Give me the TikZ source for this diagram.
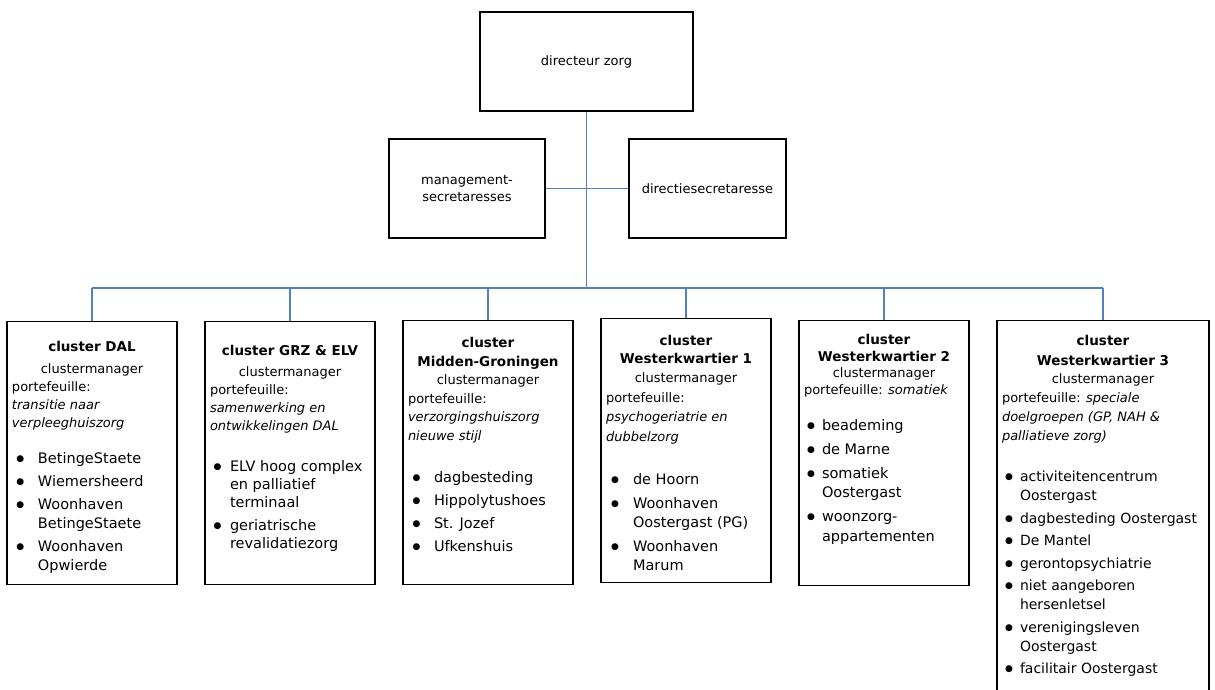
\documentclass[tikz,border=0pt]{standalone}
\usepackage{fontspec}
\setmainfont{DejaVu Sans}
\usepackage{xcolor}
\usetikzlibrary{positioning}

\definecolor{linkblue}{RGB}{79,129,189}

% bullet line: #1 dot offset, #2 text indent, #3 text
\newcommand{\bul}[3]{\par\noindent\hangindent=#2\hangafter=1%
  \makebox[#2][l]{\hspace{#1}\raisebox{1.8pt}{\fontsize{9}{9}\selectfont ●}}#3}

\tikzset{
  topbox/.style={draw, line width=1.1pt, minimum height=99pt, align=center,
    font=\fontsize{13}{17}\selectfont},
  clusterbox/.style={draw, line width=1.1pt, anchor=north, inner xsep=5pt, inner ysep=0pt},
  link/.style={draw=linkblue, line width=1.2pt}
}

\begin{document}
\begin{tikzpicture}[x=1pt, y=-1pt]
    \useasboundingbox (0,0) rectangle (1215,689);
    \clip (0,0) rectangle (1215,689);

    % Top
    \node[topbox, minimum width=213pt] (dir) at (586.5,61.5) {directeur zorg};
    \node[topbox, minimum width=156pt] (mgmt) at (467,188.5) {management-\\secretaresses};
    \node[topbox, minimum width=157pt] (dsec) at (707.5,188.5) {directiesecretaresse};

    % Clusters
    \node[clusterbox] (dal) at (92,321) {\parbox[c][263pt][t]{160pt}{%
        \fontsize{13}{18}\selectfont
        {\centering\rule{0pt}{30pt}\fontsize{13.5}{18}\bfseries cluster DAL\par}
        {\centering\rule{0pt}{21pt}clustermanager\par}
        \raggedright portefeuille:\\
        \textit{transitie naar\\ verpleeghuiszorg}\par
        \vspace{13pt}
        \fontsize{14.5}{19}\selectfont\parskip=4pt
        \bul{4.5pt}{26pt}{BetingeStaete}
        \bul{4.5pt}{26pt}{Wiemersheerd}
        \bul{4.5pt}{26pt}{Woonhaven\newline BetingeStaete}
        \bul{4.5pt}{26pt}{Woonhaven\newline Opwierde}\par}};
    \node[clusterbox] (grz) at (290,321) {\parbox[c][263pt][t]{160pt}{%
        \fontsize{13}{18}\selectfont
        {\centering\rule{0pt}{34pt}\fontsize{13.5}{18}\bfseries cluster GRZ \& ELV\par}
        {\centering\rule{0pt}{20pt}clustermanager\par}
        \raggedright portefeuille:\\
        \textit{samenwerking en\\ ontwikkelingen DAL}\par
        \vspace{18pt}
        \fontsize{14.5}{18}\selectfont\parskip=5pt
        \bul{3.5pt}{20pt}{ELV hoog complex\newline en palliatief\newline terminaal}
        \bul{3.5pt}{20pt}{geriatrische\newline revalidatiezorg}\par}};
    \node[clusterbox] (mg) at (488,320) {\parbox[c][264pt][t]{160pt}{%
        \fontsize{13}{18.6}\selectfont
        {\centering\rule{0pt}{27pt}\fontsize{13.5}{18.6}\bfseries cluster\\ Midden-Groningen\par}
        \raggedright
        {\centering clustermanager\par}
        portefeuille:\\
        \textit{verzorgingshuiszorg\\ nieuwe stijl}\par
        \vspace{19pt}
        \fontsize{14.5}{19}\selectfont\parskip=4pt
        \bul{4.5pt}{26pt}{dagbesteding}
        \bul{4.5pt}{26pt}{Hippolytushoes}
        \bul{4.5pt}{26pt}{St. Jozef}
        \bul{4.5pt}{26pt}{Ufkenshuis}\par}};
    \node[clusterbox] (wk1) at (686,318) {\parbox[c][264pt][t]{160pt}{%
        \fontsize{13}{19.4}\selectfont
        {\centering\rule{0pt}{27pt}\fontsize{13.5}{18}\bfseries cluster\\ Westerkwartier 1\par}
        \raggedright
        {\centering clustermanager\par}
        portefeuille:\\
        \textit{psychogeriatrie en\\ dubbelzorg}\par
        \vspace{20pt}
        \fontsize{14.5}{19.5}\selectfont\parskip=4pt
        \bul{5pt}{27pt}{de Hoorn}
        \bul{5pt}{27pt}{Woonhaven\newline Oostergast (PG)}
        \bul{5pt}{27pt}{Woonhaven\newline Marum}\par}};
    \node[clusterbox] (wk2) at (884,320) {\parbox[c][265pt][t]{160pt}{%
        \fontsize{13}{16.5}\selectfont
        {\centering\rule{0pt}{24pt}\fontsize{13.5}{16.5}\bfseries cluster\\ Westerkwartier 2\par}
        \raggedright
        {\centering clustermanager\par}
        portefeuille: \textit{somatiek}\par
        \vspace{12pt}
        \fontsize{14.5}{19.5}\selectfont\parskip=4.5pt
        \bul{3pt}{18pt}{beademing}
        \bul{3pt}{18pt}{de Marne}
        \bul{3pt}{18pt}{somatiek\newline Oostergast}
        \bul{3pt}{18pt}{woonzorg-\newline appartementen}\par}};
    \node[clusterbox] (wk3) at (1103,320) {\parbox[c][400pt][t]{202pt}{%
        \fontsize{13}{18.8}\selectfont
        {\centering\rule{0pt}{25pt}\fontsize{13.5}{19.5}\bfseries cluster\\ Westerkwartier 3\par}
        \raggedright
        {\centering clustermanager\par}
        portefeuille: \textit{speciale\\ doelgroepen (GP, NAH \&\\ palliatieve zorg)}\par
        \vspace{19pt}
        \fontsize{14}{19}\selectfont\parskip=3.5pt
        \bul{3pt}{18pt}{activiteitencentrum\newline Oostergast}
        \bul{3pt}{18pt}{dagbesteding Oostergast}
        \bul{3pt}{18pt}{De Mantel}
        \bul{3pt}{18pt}{gerontopsychiatrie}
        \bul{3pt}{18pt}{niet aangeboren\newline hersenletsel}
        \bul{3pt}{18pt}{verenigingsleven\newline Oostergast}
        \bul{3pt}{18pt}{facilitair Oostergast}\par}};

    % Lines
    \coordinate (bus) at (dir.south |- 0,288);
    \draw[link] (dir.south) -- (bus);
    \draw[link] (mgmt.east) -- (dsec.west);
    \draw[link] (dal.north |- bus) -- (wk3.north |- bus);
    \foreach \c in {dal,grz,mg,wk1,wk2,wk3}
        \draw[link] (\c.north |- bus) -- (\c.north);
\end{tikzpicture}
\end{document}
